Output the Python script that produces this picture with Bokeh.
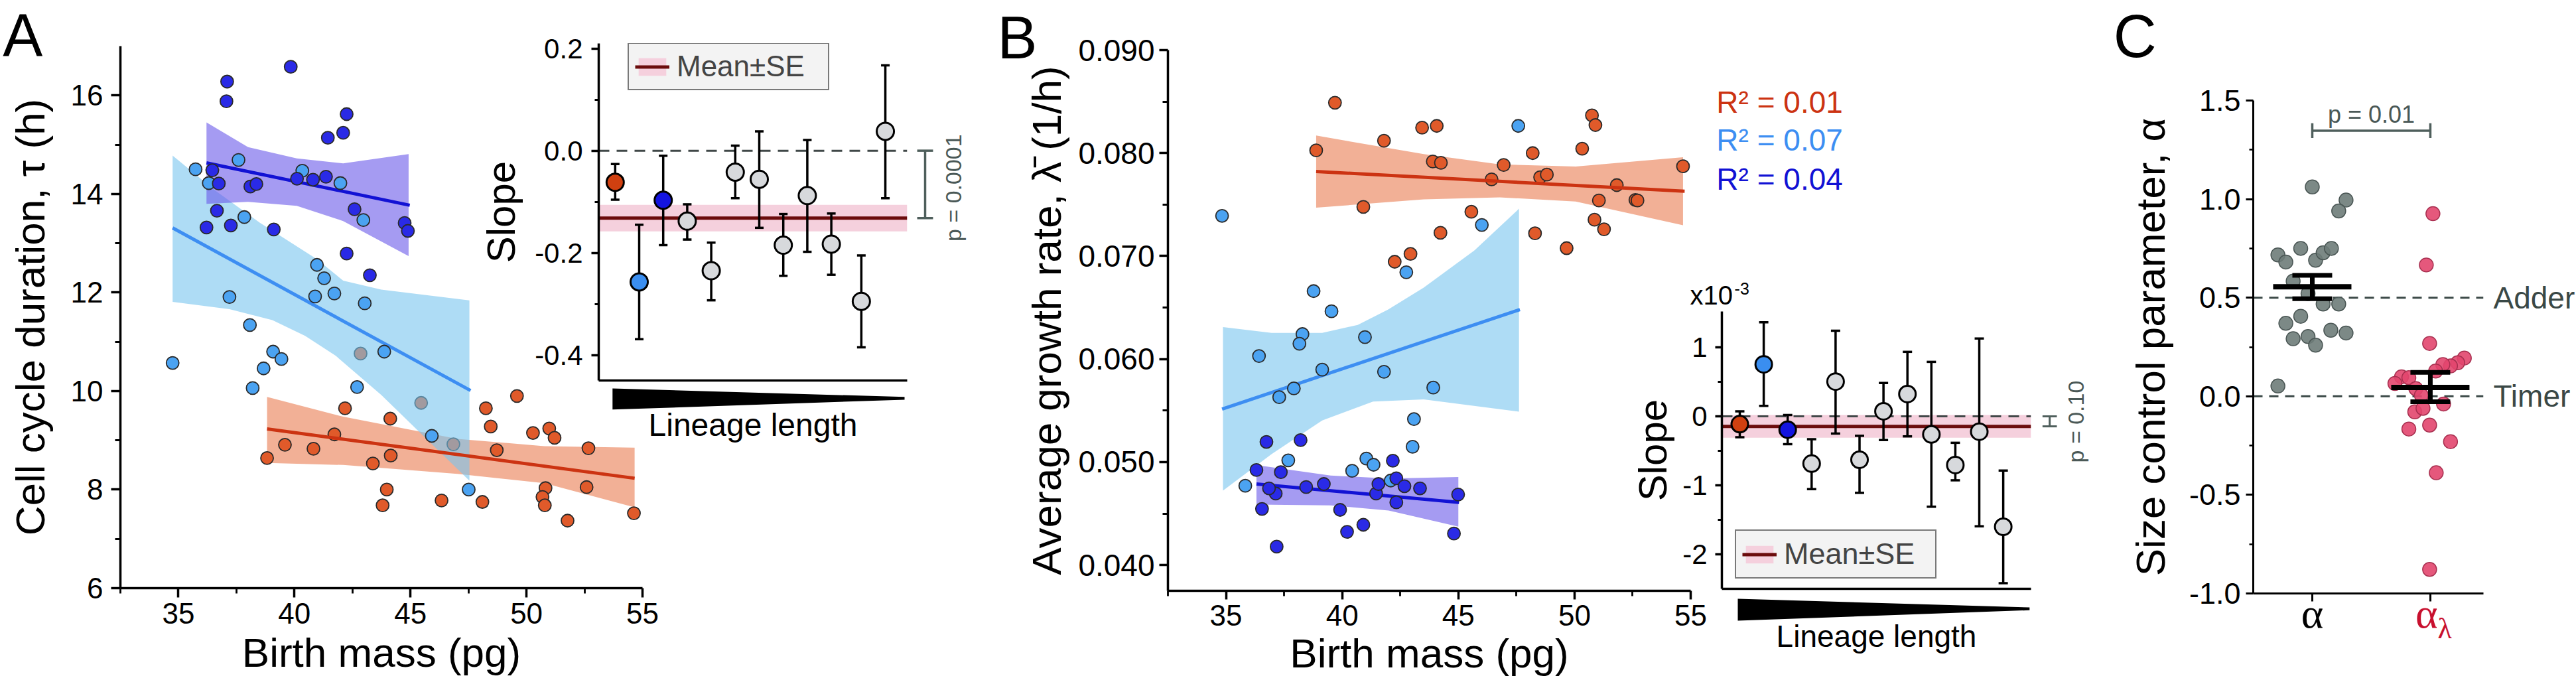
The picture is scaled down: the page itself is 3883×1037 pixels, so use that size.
import math
from bokeh.plotting import figure
from bokeh.models import (Range1d, FixedTicker, NumeralTickFormatter, Span, Legend,
                          LegendItem, Whisker, TeeHead, ColumnDataSource)
from bokeh.core.properties import value
from bokeh.embed import file_html
from bokeh.resources import INLINE

FONT = "Liberation Sans"
SERIF = "Liberation Serif"

# ---------------- data : panel A (cell cycle duration vs birth mass) ----------------
A_dblue_x = [37.1, 37.07, 39.84, 42.25, 42.1, 41.44, 36.46, 36.74, 36.66, 36.21, 37.26, 38.1, 38.36,
             40.11, 40.8, 41.36, 42.59, 44.75, 44.89, 39.11, 42.25, 43.25]
A_dblue_y = [16.28, 15.88, 16.58, 15.62, 15.24, 15.14, 14.48, 14.21, 13.66, 13.32, 13.36, 14.15, 14.2,
             14.31, 14.29, 14.35, 13.69, 13.41, 13.25, 13.28, 12.79, 12.35]
A_lblue_x = [35.74, 36.31, 37.59, 37.84, 40.34, 41.98, 42.97, 40.97, 41.28, 40.89, 41.72, 43.03, 37.2,
             38.08, 39.08, 39.44, 38.67, 38.2, 34.75, 42.7, 43.87, 45.92, 47.51]
A_lblue_y = [14.5, 14.22, 14.69, 13.53, 14.47, 14.22, 13.47, 12.56, 12.29, 11.92, 11.98, 11.78, 11.91,
             11.34, 10.8, 10.65, 10.46, 10.06, 10.57, 10.08, 10.8, 9.09, 8.0]
A_red_x = [42.85, 42.18, 44.13, 45.46, 41.72, 40.82, 39.59, 38.82, 43.38, 44.15, 43.98, 43.8, 46.85,
           46.34, 48.25, 48.46, 48.72, 49.59, 48.1, 50.28, 50.98, 51.21, 50.82, 50.69, 50.79, 51.77,
           52.67, 52.59, 54.63]
A_red_y = [10.76, 9.65, 9.44, 9.76, 9.12, 8.83, 8.91, 8.64, 8.53, 8.69, 8.0, 7.68, 8.92, 7.78, 9.65,
           9.28, 8.8, 9.9, 7.75, 9.15, 9.24, 9.05, 8.03, 7.85, 7.68, 7.37, 8.84, 8.05, 7.52]
# fitted lines and confidence bands
A_dblue_line_x = [36.21, 44.97]
A_dblue_line_y = [14.63, 13.77]
A_lblue_line_x = [34.75, 47.59]
A_lblue_line_y = [13.31, 10.01]
A_red_line_x = [38.82, 54.66]
A_red_line_y = [9.23, 8.23]
A_dblue_up_x = [36.21, 38.0, 40.1, 42.1, 44.92]
A_dblue_up_y = [15.45, 14.95, 14.72, 14.62, 14.81]
A_dblue_lo_x = [36.21, 38.0, 40.1, 42.1, 44.92]
A_dblue_lo_y = [13.80, 13.84, 13.76, 13.45, 12.74]
A_lblue_up_x = [34.75, 36.5, 38.5, 40.95, 42.1, 43.74, 47.54]
A_lblue_up_y = [14.78, 14.1, 13.42, 12.68, 12.24, 12.06, 11.84]
A_lblue_lo_x = [34.75, 37.2, 39.05, 40.46, 41.77, 43.74, 47.54]
A_lblue_lo_y = [11.81, 11.66, 11.44, 11.12, 10.72, 9.92, 8.18]
A_red_up_x = [38.82, 42.1, 47.02, 50.77, 54.66]
A_red_up_y = [9.88, 9.48, 9.03, 8.88, 8.85]
A_red_lo_x = [38.82, 42.1, 47.02, 50.77, 54.66]
A_red_lo_y = [8.54, 8.50, 8.32, 8.13, 7.64]

# inset A : slopes vs lineage length
IA_x = [1, 2, 3, 4, 5, 6, 7, 8, 9, 10, 11.25, 12.25]
IA_y = [-0.062, -0.257, -0.097, -0.138, -0.235, -0.042, -0.056, -0.185, -0.088, -0.183, -0.295, 0.038]
IA_lo = [-0.096, -0.369, -0.185, -0.174, -0.293, -0.093, -0.151, -0.245, -0.198, -0.243, -0.385, -0.093]
IA_hi = [-0.026, -0.145, -0.010, -0.105, -0.180, 0.010, 0.038, -0.124, 0.021, -0.123, -0.205, 0.167]
IA_mean = -0.132
IA_se = [-0.158, -0.106]
IA_p = "p = 0.0001"

# ---------------- data : panel B (growth rate vs birth mass) ----------------
B_red_x = [39.69, 38.88, 41.8, 43.44, 44.07, 43.9, 44.25, 40.91, 46.95, 46.43, 48.2, 48.52, 48.81,
           45.56, 44.23, 48.3, 42.94, 42.26, 49.66, 50.33, 50.75, 50.9, 50.86, 51.27, 51.05, 51.82,
           52.62, 52.71, 54.67]
B_red_y = [0.08489, 0.08026, 0.0812, 0.08247, 0.08264, 0.07919, 0.07906, 0.07477, 0.07885, 0.07745,
           0.0800, 0.07766, 0.07791, 0.0743, 0.07226, 0.07221, 0.07021, 0.06945, 0.07077, 0.08043,
           0.08366, 0.08272, 0.07353, 0.0726, 0.0754, 0.07689, 0.07545, 0.0754, 0.07872]
B_lblue_x = [34.83, 47.58, 46.01, 42.76, 38.77, 39.54, 38.29, 38.16, 36.42, 40.98, 39.14, 41.8, 37.92,
             37.29, 43.92, 43.09, 43.03, 37.68, 40.43, 41.04, 41.35, 42.09, 35.83]
B_lblue_y = [0.07391, 0.08264, 0.07302, 0.06843, 0.0666, 0.06464, 0.06243, 0.06149, 0.0603, 0.06213,
             0.05898, 0.05877, 0.05715, 0.0563, 0.05723, 0.05417, 0.05149, 0.05017, 0.04915, 0.05034,
             0.04974, 0.04821, 0.0477]
B_dblue_x = [36.31, 36.74, 38.21, 37.36, 36.55, 37.14, 37.18, 38.45, 39.21, 39.91, 40.21, 40.91, 41.46,
             41.56, 42.18, 42.33, 42.33, 42.68, 43.35, 44.81, 44.99, 36.85]
B_dblue_y = [0.04923, 0.05196, 0.05213, 0.04902, 0.04545, 0.04694, 0.04179, 0.04757, 0.04787, 0.04536,
             0.04323, 0.04391, 0.04694, 0.04787, 0.05013, 0.04843, 0.04609, 0.04766, 0.04745, 0.04306,
             0.04685, 0.04745]
B_red_line_x = [38.88, 54.74]
B_red_line_y = [0.07821, 0.0763]
B_lblue_line_x = [34.83, 47.65]
B_lblue_line_y = [0.05515, 0.06481]
B_dblue_line_x = [36.31, 45.03]
B_dblue_line_y = [0.04787, 0.04609]
B_red_up_x = [38.88, 43.51, 46.78, 50.05, 54.67]
B_red_up_y = [0.0817, 0.0799, 0.0789, 0.0787, 0.0796]
B_red_lo_x = [38.88, 43.51, 46.78, 50.05, 54.67]
B_red_lo_y = [0.0747, 0.0755, 0.0757, 0.0753, 0.0730]
B_lblue_up_x = [34.87, 36.96, 39.14, 40.67, 41.98, 43.51, 45.69, 47.61]
B_lblue_up_y = [0.0631, 0.06255, 0.06255, 0.06332, 0.06481, 0.06694, 0.07055, 0.0746]
B_lblue_lo_x = [34.87, 36.96, 39.14, 41.33, 43.51, 47.61]
B_lblue_lo_y = [0.04723, 0.05077, 0.05404, 0.05587, 0.05609, 0.0549]
B_dblue_up_x = [36.31, 39.5, 42.0, 45.0]
B_dblue_up_y = [0.0497, 0.0487, 0.0484, 0.04855]
B_dblue_lo_x = [36.31, 39.5, 42.0, 45.0]
B_dblue_lo_y = [0.04587, 0.0458, 0.0453, 0.04374]
B_r2_labels = ["R² = 0.01", "R² = 0.07", "R² = 0.04"]

# inset B (slopes x 1e-3)
IB_x = [1, 2, 3, 4, 5, 6, 7, 8, 9, 10, 11, 12]
IB_y = [-0.113, 0.754, -0.194, -0.685, 0.504, -0.629, 0.073, 0.323, -0.262, -0.706, -0.222, -1.601]
IB_lo = [-0.302, 0.153, -0.403, -1.056, -0.25, -1.109, -0.343, -0.29, -1.31, -0.927, -1.593, -2.419]
IB_hi = [0.073, 1.363, 0.02, -0.331, 1.242, -0.282, 0.484, 0.935, 0.79, -0.383, 1.129, -0.786]
IB_mean = -0.145
IB_se = [-0.31, 0.02]
IB_p = "p = 0.10"

# ---------------- data : panel C (size control parameter) ----------------
C_a_x = [1.0, 1.286, 1.224, 0.709, 0.776, 0.902, 1.028, 1.092, 1.162, 0.838, 0.964, 1.092, 1.224,
         0.902, 0.776, 0.838, 0.964, 1.028, 1.157, 1.286, 0.709]
C_a_y = [1.062, 0.995, 0.94, 0.717, 0.681, 0.75, 0.69, 0.728, 0.75, 0.584, 0.521, 0.468, 0.468,
         0.406, 0.37, 0.292, 0.303, 0.259, 0.335, 0.321, 0.052]
C_b_x = [2.022, 1.966, 1.994, 2.288, 2.232, 2.171, 2.106, 2.045, 1.756, 1.818, 1.7, 1.877, 1.924,
         2.112, 1.868, 1.938, 1.818, 1.994, 2.171, 2.05, 1.994]
C_b_y = [0.926, 0.666, 0.268, 0.194, 0.17, 0.154, 0.161, 0.128, 0.099, 0.094, 0.065, 0.039, 0.005,
         -0.039, -0.079, -0.061, -0.166, -0.146, -0.23, -0.388, -0.878]
C_groups = [1, 2]
C_mean = [0.555, 0.045]
C_se_lo = [0.495, -0.028]
C_se_hi = [0.613, 0.121]
C_ref_lines = [0.5, 0.0]
C_ref_names = ["Adder", "Timer"]
C_p = "p = 0.01"

# ---------------- colours ----------------
RED_PT, LB_PT, DB_PT = "#e05a2a", "#4ba3f2", "#2a2ae6"
RED_LN, LB_LN, DB_LN = "#cc3312", "#3d8ef2", "#1212d4"
RED_BD, LB_BD, DB_BD = "#e97b50", "#78c5ee", "#6958e9"
IN_COLS = ["#d04010", "#3a8ef0", "#1414e0"] + ["#d7d9dc"] * 9
GREY_TXT = "#4a5856"


def make_fig(left, top, width, height, xr, yr, borders, transparent=False):
    l, r, t, b = borders
    p = figure(width=width, height=height, x_range=Range1d(*xr), y_range=Range1d(*yr),
               output_backend="svg", toolbar_location=None, tools="", sizing_mode="fixed",
               min_border_left=l, min_border_right=r, min_border_top=t, min_border_bottom=b,
               styles={"position": "absolute", "left": f"{left}px", "top": f"{top}px"})
    p.outline_line_color = None
    p.grid.visible = False
    p.background_fill_alpha = 0 if transparent else 1
    p.border_fill_alpha = 0
    return p


def style_axis(ax, size, tick_out, minor_out, standoff, lw=3.5):
    ax.axis_line_width = lw
    ax.axis_line_color = "black"
    ax.major_tick_line_width = lw
    ax.major_tick_line_color = "black"
    ax.major_tick_out = tick_out
    ax.major_tick_in = 0
    ax.minor_tick_line_width = lw * 0.8
    ax.minor_tick_line_color = "black"
    ax.minor_tick_out = minor_out
    ax.minor_tick_in = 0
    ax.major_label_text_font = FONT
    ax.major_label_text_font_size = f"{size}px"
    ax.major_label_text_color = "black"
    ax.major_label_standoff = standoff
    ax.axis_label_text_font = FONT
    ax.axis_label_text_font_style = "normal"
    ax.axis_label_text_color = "black"


def band(p, ux, uy, lx, ly, color):
    p.patch(x=ux + lx[::-1], y=uy + ly[::-1], fill_color=color, fill_alpha=0.6, line_color=None)


def label(p, x, y, text, size, color="black", font=FONT, align="left", angle=0.0):
    # text glyph drawn at overlay level so that it is not clipped to the plot frame;
    # y is the vertical middle of the text
    p.text(x=[x], y=[y], text=[text], text_font=value(font), text_font_size=value(f"{size}px"),
           text_color=color, text_align=align, text_baseline="middle", angle=angle, level="overlay")


# ======================= panel A main =======================
pA = make_fig(0, 0, 1000, 1037, (32.5, 55.0), (6, 17), (181, 32, 69, 151))
band(pA, A_red_up_x, A_red_up_y, A_red_lo_x, A_red_lo_y, RED_BD)
pA.scatter(A_red_x, A_red_y, size=19, fill_color=RED_PT, line_color="#2a2a2a", line_width=1.8)
band(pA, A_lblue_up_x, A_lblue_up_y, A_lblue_lo_x, A_lblue_lo_y, LB_BD)
band(pA, A_dblue_up_x, A_dblue_up_y, A_dblue_lo_x, A_dblue_lo_y, DB_BD)
pA.line(A_red_line_x, A_red_line_y, line_color=RED_LN, line_width=5)
pA.line(A_lblue_line_x, A_lblue_line_y, line_color=LB_LN, line_width=5)
pA.line(A_dblue_line_x, A_dblue_line_y, line_color=DB_LN, line_width=5)
pA.scatter(A_lblue_x, A_lblue_y, size=19, fill_color=LB_PT, line_color="#2a2a2a", line_width=1.8)
pA.scatter(A_dblue_x, A_dblue_y, size=19, fill_color=DB_PT, line_color="#2a2a2a", line_width=1.8)
pA.xaxis.ticker = FixedTicker(ticks=[35, 40, 45, 50, 55], minor_ticks=[32.5, 37.5, 42.5, 47.5, 52.5])
pA.yaxis.ticker = FixedTicker(ticks=[6, 8, 10, 12, 14, 16], minor_ticks=[7, 9, 11, 13, 15])
style_axis(pA.xaxis[0], 44, 14, 8, 8)
style_axis(pA.yaxis[0], 44, 14, 8, 12)
pA.xaxis.axis_label = "Birth mass (pg)"
pA.yaxis.axis_label = "Cell cycle duration, τ (h)"
pA.axis.axis_label_text_font_size = "62px"
pA.xaxis.axis_label_standoff = 6
pA.yaxis.axis_label_standoff = 24
label(pA, 27.43, 17.225, "A", 90)

# ======================= inset A =======================
pIA = make_fig(700, 0, 760, 700, (0.315, 13.16), (-0.45, 0.21), (202, 93, 65, 127), transparent=True)
srcA = ColumnDataSource(dict(x=IA_x, y=IA_y, lo=IA_lo, hi=IA_hi, c=IN_COLS))
bandA = pIA.quad(left=[0.315], right=[13.16], bottom=[IA_se[0]], top=[IA_se[1]],
                 fill_color="#f5d0dd", line_color=None, level="underlay")
pIA.add_layout(Span(location=0, dimension="width", line_color="#404848", line_width=3,
                    line_dash="16 11", level="underlay"))
meanA = pIA.line([0.315, 13.16], [IA_mean, IA_mean], line_color="#6b0c0c", line_width=5, level="underlay")
pIA.add_layout(Whisker(base="x", lower="lo", upper="hi", source=srcA, line_color="black", line_width=3.5,
                       upper_head=TeeHead(size=13, line_width=3.5, line_color="black"),
                       lower_head=TeeHead(size=13, line_width=3.5, line_color="black"), level="underlay"))
pIA.scatter("x", "y", source=srcA, size=26, fill_color="c", line_color="black", line_width=3)
pIA.yaxis.ticker = FixedTicker(ticks=[-0.4, -0.2, 0.0, 0.2], minor_ticks=[-0.3, -0.1, 0.1])
pIA.yaxis.formatter = NumeralTickFormatter(format="0.0")
pIA.xaxis.ticker = FixedTicker(ticks=[])
style_axis(pIA.yaxis[0], 42, 11, 6, 13)
style_axis(pIA.xaxis[0], 42, 0, 0, 0)
pIA.yaxis.axis_label = "Slope"
pIA.yaxis.axis_label_text_font_size = "60px"
pIA.yaxis.axis_label_standoff = 14
pIA.xaxis.axis_label = "Lineage length"
pIA.xaxis.axis_label_text_font_size = "48px"
pIA.xaxis.axis_label_standoff = 40
pIA.patch(x=[0.89, 13.05, 13.05, 0.89], y=[-0.4655, -0.4823, -0.4876, -0.507],
          fill_color="black", line_color=None, level="overlay")
pIA.segment(x0=[13.906, 13.576, 13.576], y0=[0, 0, IA_mean], x1=[13.906, 14.236, 14.236],
            y1=[IA_mean, 0, IA_mean], line_color="#4f5f5c", line_width=3.5, level="overlay")
label(pIA, 15.08, -0.0728, IA_p, 34, color=GREY_TXT, align="center", angle=math.pi / 2)
legA = Legend(items=[LegendItem(label="Mean±SE", renderers=[bandA, meanA])], location=(44, 437),
              label_text_font=FONT, label_text_font_size="44px", glyph_width=52, glyph_height=33,
              padding=9, margin=0, spacing=0, label_standoff=11, label_width=219,
              border_line_color="black", border_line_width=2.5, background_fill_color="#f3f3f3",
              background_fill_alpha=1, level="overlay")
pIA.add_layout(legA)

# ======================= panel B main =======================
pB = make_fig(1460, 0, 1340, 1037, (32.5, 55.0), (0.0375, 0.090), (300, 252, 75, 147))
band(pB, B_red_up_x, B_red_up_y, B_red_lo_x, B_red_lo_y, RED_BD)
pB.scatter(B_red_x, B_red_y, size=19, fill_color=RED_PT, line_color="#2a2a2a", line_width=1.8)
band(pB, B_lblue_up_x, B_lblue_up_y, B_lblue_lo_x, B_lblue_lo_y, LB_BD)
band(pB, B_dblue_up_x, B_dblue_up_y, B_dblue_lo_x, B_dblue_lo_y, DB_BD)
pB.line(B_red_line_x, B_red_line_y, line_color=RED_LN, line_width=5)
pB.line(B_lblue_line_x, B_lblue_line_y, line_color=LB_LN, line_width=5)
pB.line(B_dblue_line_x, B_dblue_line_y, line_color=DB_LN, line_width=5)
pB.scatter(B_lblue_x, B_lblue_y, size=19, fill_color=LB_PT, line_color="#2a2a2a", line_width=1.8)
pB.scatter(B_dblue_x, B_dblue_y, size=19, fill_color=DB_PT, line_color="#2a2a2a", line_width=1.8)
pB.xaxis.ticker = FixedTicker(ticks=[35, 40, 45, 50, 55], minor_ticks=[32.5, 37.5, 42.5, 47.5, 52.5])
pB.yaxis.ticker = FixedTicker(ticks=[0.04, 0.05, 0.06, 0.07, 0.08, 0.09],
                              minor_ticks=[0.045, 0.055, 0.065, 0.075, 0.085])
pB.yaxis.formatter = NumeralTickFormatter(format="0.000")
style_axis(pB.xaxis[0], 44, 13, 8, 8)
style_axis(pB.yaxis[0], 46, 13, 8, 7)
pB.xaxis.axis_label = "Birth mass (pg)"
pB.yaxis.axis_label = "Average growth rate, λ\u0304 (1/h)"
pB.axis.axis_label_text_font_size = "62px"
pB.xaxis.axis_label_standoff = 4
pB.yaxis.axis_label_standoff = 10
label(pB, 25.16, 0.09122, "B", 90)
for txt, yy, col in zip(B_r2_labels, [0.08494, 0.08124, 0.07747], [RED_LN, LB_LN, DB_LN]):
    label(pB, 56.11, yy, txt, 46, color=col)

# ======================= inset B =======================
pIB = make_fig(2440, 400, 720, 600, (0.252, 13.16), (-2.5, 1.52), (155, 99, 69, 113), transparent=True)
srcB = ColumnDataSource(dict(x=IB_x, y=IB_y, lo=IB_lo, hi=IB_hi, c=IN_COLS))
bandB = pIB.quad(left=[0.252], right=[13.16], bottom=[IB_se[0]], top=[IB_se[1]],
                 fill_color="#f5d0dd", line_color=None, level="underlay")
pIB.add_layout(Span(location=0, dimension="width", line_color="#404848", line_width=3,
                    line_dash="16 11", level="underlay"))
meanB = pIB.line([0.252, 13.16], [IB_mean, IB_mean], line_color="#6b0c0c", line_width=5, level="underlay")
pIB.add_layout(Whisker(base="x", lower="lo", upper="hi", source=srcB, line_color="black", line_width=3.5,
                       upper_head=TeeHead(size=14, line_width=3.5, line_color="black"),
                       lower_head=TeeHead(size=14, line_width=3.5, line_color="black"), level="underlay"))
pIB.scatter("x", "y", source=srcB, size=25, fill_color="c", line_color="black", line_width=3)
pIB.yaxis.ticker = FixedTicker(ticks=[-2, -1, 0, 1], minor_ticks=[-1.5, -0.5, 0.5])
pIB.yaxis.formatter = NumeralTickFormatter(format="0")
pIB.xaxis.ticker = FixedTicker(ticks=[])
style_axis(pIB.yaxis[0], 42, 10, 6, 12)
style_axis(pIB.xaxis[0], 42, 0, 0, 0)
pIB.yaxis.axis_label = "Slope"
pIB.yaxis.axis_label_text_font_size = "60px"
pIB.yaxis.axis_label_standoff = 8
pIB.xaxis.axis_label = "Lineage length"
pIB.xaxis.axis_label_text_font_size = "46px"
pIB.xaxis.axis_label_standoff = 45
pIB.patch(x=[0.917, 13.1, 13.1, 0.917], y=[-2.644, -2.77, -2.81, -2.962],
          fill_color="black", line_color=None, level="overlay")
pIB.segment(x0=[13.94, 13.64, 13.64], y0=[0, 0, IB_mean], x1=[13.94, 14.24, 14.24],
            y1=[IB_mean, 0, IB_mean], line_color="#4f5f5c", line_width=3, level="overlay")
label(pIB, 15.02, -0.077, IB_p, 34, color=GREY_TXT, align="center", angle=math.pi / 2)
label(pIB, -1.08, 1.76, "x10", 40)
label(pIB, 0.78, 1.851, "-3", 25)
legB = Legend(items=[LegendItem(label="Mean±SE", renderers=[bandB, meanB])], location=(20, 15),
              label_text_font=FONT, label_text_font_size="45px", glyph_width=52, glyph_height=33,
              padding=9, margin=0, spacing=0, label_standoff=11, label_width=219,
              border_line_color="black", border_line_width=2.5, background_fill_color="#f3f3f3",
              background_fill_alpha=1, level="overlay")
pIB.add_layout(legB)

# ======================= panel C =======================
pC = make_fig(3150, 0, 733, 1037, (0.5, 2.45), (-1.0, 1.5), (246, 140, 151, 143))
for yy in C_ref_lines:
    pC.add_layout(Span(location=yy, dimension="width", line_color="#3a4846", line_width=3,
                       line_dash="14 10", level="underlay"))
pC.scatter(C_a_x, C_a_y, size=21, fill_color="#6e7c79", fill_alpha=0.9, line_color="#4a5654", line_width=1.5)
pC.scatter(C_b_x, C_b_y, size=21, fill_color="#e2466e", fill_alpha=0.9, line_color="#a83050", line_width=1.5)
srcC = ColumnDataSource(dict(x=C_groups, m=C_mean, lo=C_se_lo, hi=C_se_hi))
pC.add_layout(Whisker(base="x", lower="lo", upper="hi", source=srcC, line_color="black", line_width=7,
                      upper_head=TeeHead(size=60, line_width=7, line_color="black"),
                      lower_head=TeeHead(size=60, line_width=7, line_color="black"), level="overlay"))
pC.scatter("x", "m", source=srcC, marker="dash", size=118, line_color="black", line_width=8, level="overlay")
pC.segment(x0=[1, 1, 2], y0=[1.347, 1.31, 1.31], x1=[2, 1, 2], y1=[1.347, 1.385, 1.385],
           line_color="#4f5f5c", line_width=3.5)
label(pC, 1.5, 1.429, C_p, 36, color=GREY_TXT, align="center")
for yy, nm in zip(C_ref_lines, C_ref_names):
    label(pC, 2.534, yy, nm, 46, color="#3a4846")
pC.yaxis.ticker = FixedTicker(ticks=[-1.0, -0.5, 0.0, 0.5, 1.0, 1.5], minor_ticks=[-0.75, -0.25, 0.25, 0.75, 1.25])
pC.yaxis.formatter = NumeralTickFormatter(format="0.0")
pC.xaxis.ticker = FixedTicker(ticks=C_groups)
pC.xaxis.major_label_overrides = {1: " ", 2: " "}
style_axis(pC.yaxis[0], 45, 11, 6, 8, lw=3)
style_axis(pC.xaxis[0], 45, 12, 0, 4, lw=3)
pC.yaxis.axis_label = "Size control parameter, α"
pC.yaxis.axis_label_text_font_size = "62px"
pC.yaxis.axis_label_standoff = 21
label(pC, 1.0, -1.102, "α", 64, font=SERIF, align="center")
label(pC, 2.062, -1.102, "α", 64, color="#c8102e", font=SERIF, align="right")
label(pC, 2.062, -1.178, "λ", 44, color="#c8102e", font=SERIF, align="left")
label(pC, -0.685, 1.8247, "C", 90)

open("out.html", "w").write(file_html([pA, pB, pC, pIA, pIB], INLINE))
